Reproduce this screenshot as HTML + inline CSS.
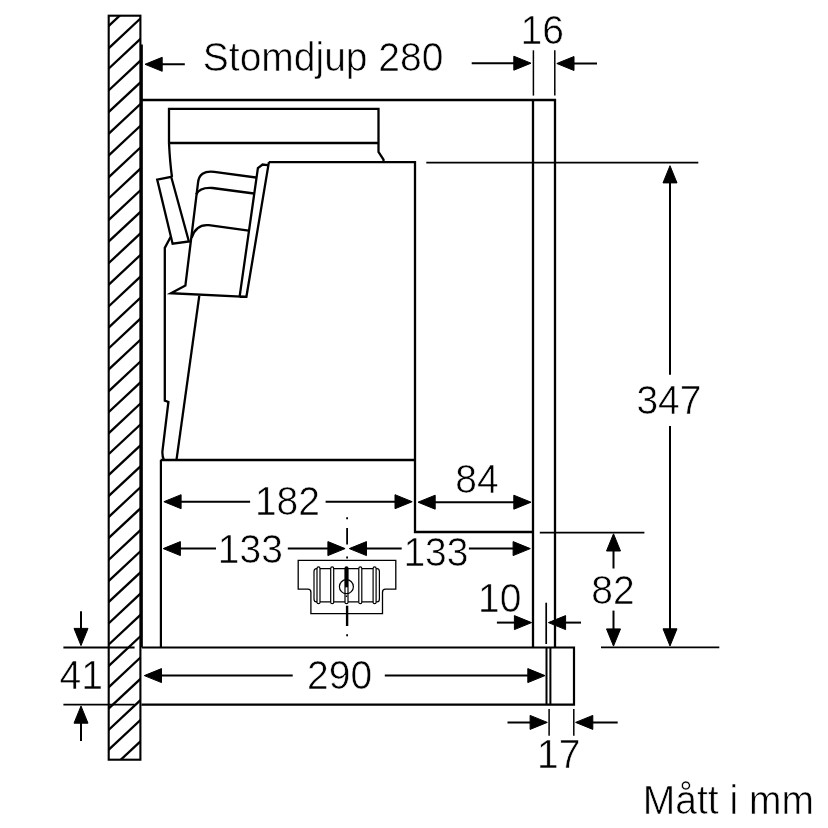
<!DOCTYPE html>
<html><head><meta charset="utf-8"><style>
html,body{margin:0;padding:0;background:#fff;}
body{width:828px;height:828px;overflow:hidden;}
svg{display:block;will-change:transform;font-family:"Liberation Sans", sans-serif;}
</style></head><body>
<svg width="828" height="828" viewBox="0 0 828 828" stroke="#000" fill="#000" font-family="Liberation Sans, sans-serif"><clipPath id="wc"><rect x="108.7" y="15.7" width="31.7" height="744.0"/></clipPath><g clip-path="url(#wc)" stroke-width="2.3"><line x1="106.7" y1="-15.2" x2="142.4" y2="-48.6"/><line x1="106.7" y1="6.3" x2="142.4" y2="-27.1"/><line x1="106.7" y1="27.8" x2="142.4" y2="-5.6"/><line x1="106.7" y1="50.1" x2="142.4" y2="16.7"/><line x1="106.7" y1="70.5" x2="142.4" y2="37.1"/><line x1="106.7" y1="92.2" x2="142.4" y2="58.8"/><line x1="106.7" y1="113.9" x2="142.4" y2="80.5"/><line x1="106.7" y1="135.6" x2="142.4" y2="102.2"/><line x1="106.7" y1="157.3" x2="142.4" y2="123.9"/><line x1="106.7" y1="179.1" x2="142.4" y2="145.7"/><line x1="106.7" y1="200.2" x2="142.4" y2="166.8"/><line x1="106.7" y1="221.8" x2="142.4" y2="188.4"/><line x1="106.7" y1="243.4" x2="142.4" y2="210.0"/><line x1="106.7" y1="265.0" x2="142.4" y2="231.6"/><line x1="106.7" y1="286.6" x2="142.4" y2="253.2"/><line x1="106.7" y1="308.2" x2="142.4" y2="274.8"/><line x1="106.7" y1="329.3" x2="142.4" y2="295.9"/><line x1="106.7" y1="350.2" x2="142.4" y2="316.8"/><line x1="106.7" y1="371.3" x2="142.4" y2="337.9"/><line x1="106.7" y1="393.1" x2="142.4" y2="359.7"/><line x1="106.7" y1="414.0" x2="142.4" y2="380.6"/><line x1="106.7" y1="435.1" x2="142.4" y2="401.7"/><line x1="106.7" y1="456.0" x2="142.4" y2="422.7"/><line x1="106.7" y1="476.9" x2="142.4" y2="443.6"/><line x1="106.7" y1="497.8" x2="142.4" y2="464.5"/><line x1="106.7" y1="518.8" x2="142.4" y2="485.4"/><line x1="106.7" y1="539.9" x2="142.4" y2="506.5"/><line x1="106.7" y1="561.7" x2="142.4" y2="528.3"/><line x1="106.7" y1="582.8" x2="142.4" y2="549.4"/><line x1="106.7" y1="603.9" x2="142.4" y2="570.5"/><line x1="106.7" y1="625.2" x2="142.4" y2="591.8"/><line x1="106.7" y1="646.5" x2="142.4" y2="613.1"/><line x1="106.7" y1="667.8" x2="142.4" y2="634.4"/><line x1="106.7" y1="689.1" x2="142.4" y2="655.7"/><line x1="106.7" y1="710.4" x2="142.4" y2="677.0"/><line x1="106.7" y1="731.7" x2="142.4" y2="698.3"/><line x1="106.7" y1="751.6" x2="142.4" y2="718.2"/><line x1="106.7" y1="772.9" x2="142.4" y2="739.5"/><line x1="106.7" y1="794.2" x2="142.4" y2="760.8"/><line x1="106.7" y1="815.5" x2="142.4" y2="782.1"/></g><rect x="108.7" y="15.7" width="31.7" height="744.0" fill="none" stroke-width="2.1"/><line x1="141.6" y1="44.6" x2="141.6" y2="647.5" stroke-width="2.5"/><line x1="142.0" y1="100.0" x2="556.0" y2="100.0" stroke-width="2.3"/><line x1="533.0" y1="100.0" x2="533.0" y2="647.3" stroke-width="2.3"/><line x1="555.0" y1="98.9" x2="555.0" y2="647.3" stroke-width="2.3"/><line x1="533.4" y1="50.3" x2="533.4" y2="95.6" stroke-width="1.5"/><line x1="554.8" y1="50.3" x2="554.8" y2="95.6" stroke-width="1.5"/><path d="M142 647.5 H574 V704.6 H141.4" fill="none" stroke-width="2.2"/><path d="M546.5 647.5 V704.6 M550.4 647.5 V704.6" fill="none" stroke-width="2.0"/><path d="M169 143 V108.9 H378.5 V152 L383.5 159.6 V162.2" fill="none" stroke-width="2.3"/><line x1="169.0" y1="143.0" x2="378.5" y2="143.0" stroke-width="2.3"/><path d="M169 143 Q170 163 172 177" fill="none" stroke-width="2.3"/><path d="M157.2 179.6 L171.2 176.8 L188.9 241.5 L172.6 243.7 Z" fill="none" stroke-width="2.3"/><path d="M170.6 237 L164.8 247.9 V400.6 L168.4 402.0 L162.5 450.5 Q162.0 456 163.8 459.8" fill="none" stroke-width="2.3"/><path d="M268.8 162.2 H415 V532 H533" fill="none" stroke-width="2.3"/><line x1="160.6" y1="460.0" x2="415.0" y2="460.0" stroke-width="2.3"/><line x1="160.9" y1="460.0" x2="160.9" y2="647.5" stroke-width="2.2"/><line x1="199.3" y1="295.6" x2="176.5" y2="459.8" stroke-width="2.3"/><path d="M268.9 162.1 L246.4 296.8 H239.7 M239.7 296.2 L257.9 168.1 L262.6 164.5 L267.7 165.2" fill="none" stroke-width="2.3"/><path d="M256.1 177.5 L214.3 171.8 Q199 170 198 183 L185.4 285.4 L170.9 293.2 L246.4 296.8" fill="none" stroke-width="2.3"/><path d="M196.2 194.4 Q200 187 212.5 188 L253.9 193.5" fill="none" stroke-width="2.3"/><path d="M191.6 237.9 Q196 224 208.8 225.2 L248.7 230.7" fill="none" stroke-width="2.3"/><polygon points="145.0,64.3 162.2,57.3 162.2,71.3"/><line x1="150.0" y1="64.3" x2="184.8" y2="64.3" stroke-width="2.0"/><text stroke="#fff" stroke-width="0.6" transform="translate(202.8 71.3) scale(1 1.03)" font-size="39">Stomdjup 280</text><line x1="471.7" y1="63.2" x2="525.0" y2="63.2" stroke-width="2.0"/><polygon points="531.0,63.2 513.8,56.2 513.8,70.2"/><polygon points="556.8,63.5 574.0,56.5 574.0,70.5"/><line x1="562.0" y1="63.5" x2="597.0" y2="63.5" stroke-width="2.0"/><text stroke="#fff" stroke-width="0.6" transform="translate(520.6 43.6) scale(1 1.03)" font-size="39">16</text><line x1="426.3" y1="162.6" x2="698.3" y2="162.6" stroke-width="1.8"/><polygon points="670.0,165.7 663.0,182.9 677.0,182.9"/><line x1="670.0" y1="175.0" x2="670.0" y2="374.8" stroke-width="2.0"/><line x1="670.0" y1="426.0" x2="670.0" y2="640.0" stroke-width="2.0"/><polygon points="670.0,646.0 663.0,628.8 677.0,628.8"/><line x1="601.0" y1="647.3" x2="719.3" y2="647.3" stroke-width="1.8"/><text stroke="#fff" stroke-width="0.6" transform="translate(636.4 413.7) scale(1 1.03)" font-size="39">347</text><line x1="539.8" y1="532.6" x2="644.4" y2="532.6" stroke-width="1.8"/><polygon points="613.5,533.8 606.5,551.0 620.5,551.0"/><line x1="613.5" y1="545.0" x2="613.5" y2="568.5" stroke-width="2.0"/><line x1="613.5" y1="610.6" x2="613.5" y2="640.0" stroke-width="2.0"/><polygon points="613.5,646.1 606.5,628.9 620.5,628.9"/><text stroke="#fff" stroke-width="0.6" transform="translate(591.3 603.7) scale(1 1.03)" font-size="39">82</text><polygon points="418.0,502.2 435.2,495.2 435.2,509.2"/><line x1="425.0" y1="502.2" x2="524.0" y2="502.2" stroke-width="2.0"/><polygon points="531.0,502.2 513.8,495.2 513.8,509.2"/><text stroke="#fff" stroke-width="0.6" transform="translate(455.2 492.6) scale(1 1.03)" font-size="39">84</text><polygon points="163.9,501.7 181.1,494.7 181.1,508.7"/><line x1="170.0" y1="501.7" x2="250.1" y2="501.7" stroke-width="2.0"/><line x1="325.6" y1="501.7" x2="406.0" y2="501.7" stroke-width="2.0"/><polygon points="412.2,501.7 395.0,494.7 395.0,508.7"/><text stroke="#fff" stroke-width="0.6" transform="translate(254.9 515.0) scale(1 1.03)" font-size="39">182</text><polygon points="163.2,548.6 180.4,541.6 180.4,555.6"/><line x1="170.0" y1="548.6" x2="216.0" y2="548.6" stroke-width="2.0"/><line x1="287.8" y1="548.6" x2="339.0" y2="548.6" stroke-width="2.0"/><polygon points="345.1,548.6 327.9,541.6 327.9,555.6"/><text stroke="#fff" stroke-width="0.6" transform="translate(217.8 563.0) scale(1 1.03)" font-size="39">133</text><polygon points="349.3,548.6 366.5,541.6 366.5,555.6"/><line x1="355.0" y1="548.6" x2="401.7" y2="548.6" stroke-width="2.0"/><line x1="468.9" y1="548.6" x2="524.0" y2="548.6" stroke-width="2.0"/><polygon points="530.3,548.6 513.1,541.6 513.1,555.6"/><text stroke="#fff" stroke-width="0.6" transform="translate(403.4 566.0) scale(1 1.03)" font-size="39">133</text><line x1="546.2" y1="602.7" x2="546.2" y2="644.0" stroke-width="1.7"/><line x1="496.9" y1="622.6" x2="525.0" y2="622.6" stroke-width="2.0"/><polygon points="531.6,622.6 514.4,615.6 514.4,629.6"/><polygon points="548.4,622.6 565.6,615.6 565.6,629.6"/><line x1="553.0" y1="622.6" x2="581.0" y2="622.6" stroke-width="2.0"/><text stroke="#fff" stroke-width="0.6" transform="translate(478.0 611.5) scale(1 1.03)" font-size="39">10</text><polygon points="144.3,675.6 161.5,668.6 161.5,682.6"/><line x1="150.0" y1="675.6" x2="292.7" y2="675.6" stroke-width="2.0"/><line x1="384.8" y1="675.6" x2="539.0" y2="675.6" stroke-width="2.0"/><polygon points="545.0,675.6 527.8,668.6 527.8,682.6"/><text stroke="#fff" stroke-width="0.6" transform="translate(307.1 689.2) scale(1 1.03)" font-size="39">290</text><line x1="63.4" y1="647.5" x2="134.6" y2="647.5" stroke-width="1.8"/><line x1="63.4" y1="704.6" x2="134.6" y2="704.6" stroke-width="1.8"/><line x1="81.0" y1="611.3" x2="81.0" y2="640.0" stroke-width="2.0"/><polygon points="81.0,645.6 74.0,628.4 88.0,628.4"/><polygon points="81.0,706.0 74.0,723.2 88.0,723.2"/><line x1="81.0" y1="712.0" x2="81.0" y2="741.0" stroke-width="2.0"/><text stroke="#fff" stroke-width="0.6" transform="translate(59.5 688.6) scale(1 1.03)" font-size="39">41</text><line x1="549.1" y1="709.0" x2="549.1" y2="735.8" stroke-width="1.5"/><line x1="573.8" y1="709.0" x2="573.8" y2="735.8" stroke-width="1.5"/><line x1="507.5" y1="722.4" x2="542.0" y2="722.4" stroke-width="2.0"/><polygon points="547.3,722.4 530.1,715.4 530.1,729.4"/><polygon points="575.6,722.4 592.8,715.4 592.8,729.4"/><line x1="581.0" y1="722.4" x2="617.7" y2="722.4" stroke-width="2.0"/><text stroke="#fff" stroke-width="0.6" transform="translate(537.1 767.8) scale(1 1.03)" font-size="39">17</text><text stroke="#fff" stroke-width="0.6" transform="translate(642.8 813.5) scale(1 1.03)" font-size="39">Mått i mm</text><path d="M298.2 560.3 H395.8 V589.2 H385.5 Q382.5 589.2 382.5 592.2 V613.6 H310.9 V592.2 Q310.9 589.2 307.9 589.2 H298.2 Z" fill="none" stroke-width="1.3"/><line x1="316.0" y1="568.7" x2="377.0" y2="568.7" stroke-width="1.2"/><line x1="316.0" y1="601.9" x2="377.0" y2="601.9" stroke-width="1.2"/><path d="M316.5 568.6 Q314 568.6 314 571.5 V599 Q314 601.9 316.5 601.9" fill="none" stroke-width="1.2"/><path d="M377 568.6 Q379.4 568.6 379.4 571.5 V599 Q379.4 601.9 377 601.9" fill="none" stroke-width="1.2"/><rect x="317.0" y="566.9" width="3.0" height="36.8" rx="1.5" fill="#fff" stroke-width="1.2"/><rect x="330.7" y="566.9" width="3.0" height="36.8" rx="1.5" fill="#fff" stroke-width="1.2"/><rect x="358.8" y="566.9" width="3.0" height="36.8" rx="1.5" fill="#fff" stroke-width="1.2"/><rect x="373.1" y="566.9" width="3.0" height="36.8" rx="1.5" fill="#fff" stroke-width="1.2"/><rect x="345.0" y="566.9" width="3.0" height="36.8" rx="1.5" fill="#fff" stroke-width="1.2"/><circle cx="346.4" cy="586.7" r="7.0" fill="none" stroke-width="1.2"/><line x1="347.1" y1="517.3" x2="347.1" y2="519.3" stroke-width="1.8"/><line x1="347.1" y1="527.9" x2="347.1" y2="544.5" stroke-width="1.8"/><line x1="347.1" y1="556.5" x2="347.1" y2="558.5" stroke-width="1.8"/><line x1="346.5" y1="567.0" x2="346.5" y2="587.3" stroke-width="3.0"/><line x1="346.5" y1="595.5" x2="346.5" y2="597.0" stroke-width="1.5"/><line x1="347.1" y1="605.7" x2="347.1" y2="626.0" stroke-width="2.4"/><line x1="347.1" y1="634.3" x2="347.1" y2="636.3" stroke-width="1.8"/></svg>
</body></html>
